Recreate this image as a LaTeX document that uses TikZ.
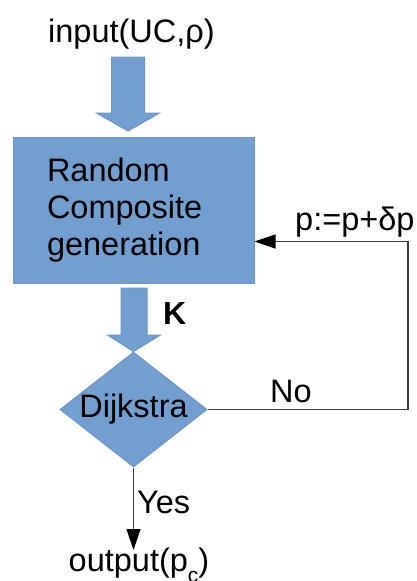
\documentclass[tikz,border=0pt]{standalone}
\usepackage{fontspec}
\setmainfont{Liberation Sans}
\usetikzlibrary{arrows.meta,shapes.geometric}
\definecolor{lobox}{HTML}{729FCF}
\definecolor{loedge}{HTML}{6A96C9}
\definecolor{loline}{HTML}{3C3C3C}

\begin{document}
\begin{tikzpicture}[x=1pt,y=-1pt]
\tikzstyle{every node}=[inner sep=0pt, font=\fontsize{32.5}{37}\selectfont]
\tikzstyle{blockbox}=[draw=loedge, line width=1pt, fill=lobox]
\tikzstyle{flow}=[draw=loline, line width=1.3pt,
  -{Triangle[length=21pt,width=14pt,color=black]}]
\useasboundingbox (0,0) rectangle (416,581);
\node (in) [anchor=base] at (131.5,42.7) {input(UC,ρ)};
\node (gen) [blockbox, minimum width=241pt, minimum height=146pt, text width=173pt,
  inner xsep=34pt, align=left] at (133.5,210) {Random\\Composite\\generation};
\node (dij) [blockbox, diamond, minimum width=147pt, minimum height=115pt, aspect=1.28]
  at (133.5,409.5) {Dijkstra};
\node (out) [anchor=base] at (139,571.5)
  {output(p\raisebox{-11pt}{\fontsize{21}{21}\selectfont c})};
% block arrows
\draw[blockbox] (111.5,57) -- (144.5,57) -- (144.5,113) -- (159.5,113) -- (128,131)
  -- (96.5,113) -- (111.5,113) -- cycle;
\draw[blockbox] (121,288) -- (147,288) -- (147,335) -- (160.5,335) -- (dij.north)
  -- (107.5,335) -- (121,335) -- cycle;
\node (k) [anchor=base west, font=\fontsize{32}{37}\selectfont\bfseries] at (163,324) {K};
% loop back
\coordinate (fb) at (408,241.5);
\draw[flow] (dij.east) -| (fb) -- (fb -| gen.east);
\node (no) [anchor=base west] at (270,402) {No};
\node (inc) [anchor=base west] at (295,230) {p:=p+δp};
\draw[flow] (dij.south) -- (dij.south |- 0,550);
\node (yes) [anchor=base west] at (137,513) {Yes};
\end{tikzpicture}
\end{document}
